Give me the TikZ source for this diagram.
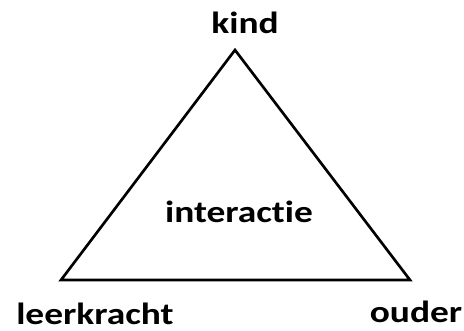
\documentclass[tikz,border=0pt]{standalone}
\usepackage{fontspec}
\setmainfont{Carlito}
\newfontfamily\lblfont[FakeStretch=1.22, Ligatures=NoCommon]{Carlito}
\usepackage{tikz}
\usetikzlibrary{positioning}

\begin{document}
\begin{tikzpicture}[
  x=0.75pt, y=-0.75pt,
  lbl/.style={font=\lblfont\fontsize{23}{27}\selectfont\bfseries, inner sep=0pt, anchor=base},
  side/.style={line width=2pt, line join=miter}
]
\useasboundingbox (0,0) rectangle (464,330);
\coordinate (top)   at (235,50);
\coordinate (left)  at (61,280);
\coordinate (right) at (410,280);
\draw[side] (top) -- (left) -- (right) -- cycle;
\node[lbl] (kind)       at (245,33)  {kind};
\node[lbl] (interactie) at (239,222) {interactie};
\node[lbl] (leerkracht) at (95,324)  {leerkracht};
\node[lbl] (ouder)      at (416,322) {ouder};
\end{tikzpicture}
\end{document}
